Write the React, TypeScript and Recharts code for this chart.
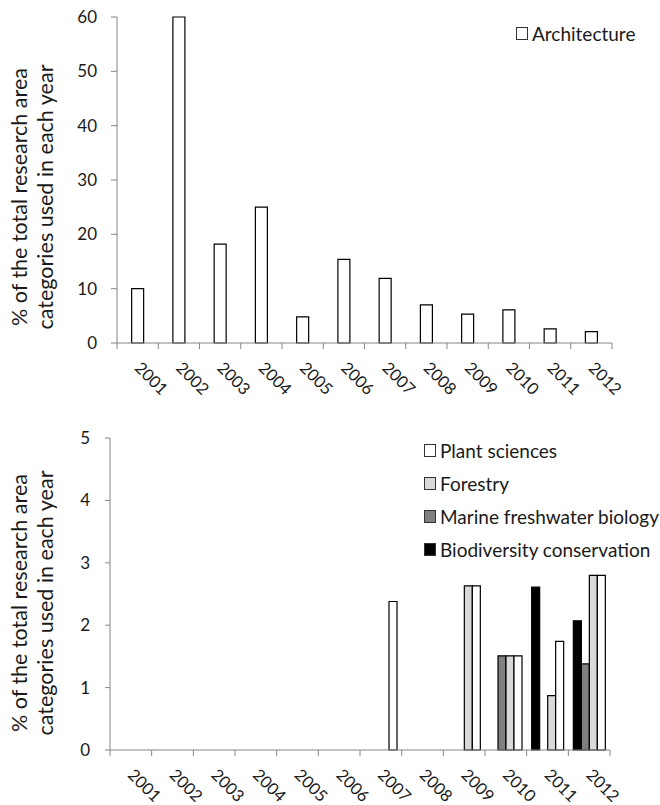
import React from 'react';
import { BarChart, Bar, XAxis, YAxis, Legend } from 'recharts';

const years = ['2001', '2002', '2003', '2004', '2005', '2006', '2007', '2008', '2009', '2010', '2011', '2012'];

// top panel
const architecture = [10, 60, 18.2, 25, 4.8, 15.4, 11.9, 7, 5.3, 6.1, 2.6, 2.1];
const topTicks = [0, 10, 20, 30, 40, 50, 60];

// bottom panel (null = no bar that year)
const biodiversity = [null, null, null, null, null, null, null, null, null, null, 2.61, 2.07];
const marine = [null, null, null, null, null, null, null, null, null, 1.51, null, 1.38];
const forestry = [null, null, null, null, null, null, null, null, 2.63, 1.51, 0.87, 2.8];
const plantSciences = [null, null, null, null, null, null, 2.38, null, 2.63, 1.51, 1.74, 2.8];
const bottomTicks = [0, 1, 2, 3, 4, 5];

const topData = years.map((year, i) => ({ year, architecture: architecture[i] }));
const bottomData = years.map((year, i) => ({
  year,
  biodiversity: biodiversity[i],
  marine: marine[i],
  forestry: forestry[i],
  plantSciences: plantSciences[i],
}));

const FONT = 'Lato, "Open Sans", sans-serif';
const AXIS = '#868686';
const TEXT = '#1a1a1a';

const bottomSeries = [
  { key: 'plantSciences', name: 'Plant sciences', fill: '#ffffff' },
  { key: 'forestry', name: 'Forestry', fill: '#d9d9d9' },
  { key: 'marine', name: 'Marine freshwater biology', fill: '#7f7f7f' },
  { key: 'biodiversity', name: 'Biodiversity conservation', fill: '#000000' },
];

// tick marks sit between categories, labels are slanted under each category
const makeYearTick = (step: number, count: number) => (props: any) => {
  const { x, y, payload, index } = props;
  const half = step / 2;
  return (
    <g>
      <line x1={x - half} x2={x - half} y1={y} y2={y + 6} stroke={AXIS} strokeWidth={1} />
      {index === count - 1 && (
        <line x1={x + half} x2={x + half} y1={y} y2={y + 6} stroke={AXIS} strokeWidth={1} />
      )}
      <text
        transform={`translate(${x - 4},${y + 26}) rotate(45)`}
        textAnchor="start"
        fontSize={16.5}
        fontFamily={FONT}
        fill={TEXT}
      >
        {payload.value}
      </text>
    </g>
  );
};

// zero-size wrapper so the legend does not push the plot area around
const LegendBox = ({ items, gap }: { items: { name: string; fill: string }[]; gap: number }) => (
  <div style={{ position: 'absolute', left: 0, top: 0, fontFamily: FONT, fontSize: 19, color: TEXT }}>
    {items.map((it) => (
      <div key={it.name} style={{ display: 'flex', alignItems: 'center', height: gap, whiteSpace: 'nowrap' }}>
        <span
          style={{
            display: 'inline-block',
            width: 10,
            height: 11,
            background: it.fill,
            border: '1px solid #333',
            marginRight: 4,
          }}
        />
        {it.name}
      </div>
    ))}
  </div>
);

const YTitle = ({ x, y }: { x: number; y: number }) => (
  <g fontFamily={FONT} fontSize={21.5} fill={TEXT}>
    <text transform={`translate(${x},${y}) rotate(-90)`} textAnchor="middle">
      % of the total research area
    </text>
    <text transform={`translate(${x + 26},${y}) rotate(-90)`} textAnchor="middle">
      categories used in each year
    </text>
  </g>
);

export default function App() {
  const topStep = (612 - 117) / years.length;
  const bottomStep = (610 - 110) / years.length;

  return (
    <div style={{ position: 'absolute', left: 0, top: 0, width: 660, height: 805, background: '#fff' }}>
      <div style={{ position: 'absolute', left: 0, top: 0 }}>
        <BarChart width={660} height={410} data={topData} margin={{ top: 17, right: 48, bottom: 0, left: 0 }} barCategoryGap="35.5%">
          <YAxis
            width={117}
            domain={[0, 60]}
            ticks={topTicks}
            tickSize={6}
            tickMargin={14}
            axisLine={{ stroke: AXIS }}
            tickLine={{ stroke: AXIS }}
            tick={{ fontSize: 17, fontFamily: FONT, fill: TEXT }}
          />
          <XAxis
            dataKey="year"
            height={67}
            interval={0}
            tickSize={0}
            tickMargin={0}
            tickLine={false}
            axisLine={{ stroke: AXIS }}
            tick={makeYearTick(topStep, years.length)}
          />
          <Legend
            verticalAlign="top"
            align="right"
            wrapperStyle={{ top: 19, left: 516, width: 0, height: 0, overflow: 'visible' }}
            content={() => <LegendBox items={[{ name: 'Architecture', fill: '#ffffff' }]} gap={28} />}
          />
          <Bar dataKey="architecture" name="Architecture" fill="#ffffff" stroke="#000" strokeWidth={1.2} isAnimationActive={false} />
        </BarChart>
      </div>

      <div style={{ position: 'absolute', left: 0, top: 400 }}>
        <BarChart width={660} height={405} data={bottomData} margin={{ top: 38, right: 50, bottom: 0, left: 0 }} barCategoryGap="12%" barGap={0}>
          <YAxis
            width={110}
            domain={[0, 5]}
            ticks={bottomTicks}
            tickSize={5}
            tickMargin={15}
            axisLine={{ stroke: AXIS }}
            tickLine={{ stroke: AXIS }}
            tick={{ fontSize: 17, fontFamily: FONT, fill: TEXT }}
          />
          <XAxis
            dataKey="year"
            height={55}
            interval={0}
            tickSize={0}
            tickMargin={0}
            tickLine={false}
            axisLine={{ stroke: AXIS }}
            tick={makeYearTick(bottomStep, years.length)}
          />
          <Legend
            verticalAlign="top"
            align="right"
            wrapperStyle={{ top: 33.5, left: 424, width: 0, height: 0, overflow: 'visible' }}
            content={() => <LegendBox items={bottomSeries} gap={33} />}
          />
          {[...bottomSeries].reverse().map((s) => (
            <Bar
              key={s.key}
              dataKey={s.key}
              name={s.name}
              fill={s.fill}
              stroke="#000"
              strokeWidth={1.2}
              isAnimationActive={false}
            />
          ))}
        </BarChart>
      </div>

      <svg width={660} height={805} style={{ position: 'absolute', left: 0, top: 0, pointerEvents: 'none' }}>
        <YTitle x={27} y={197} />
        <YTitle x={27} y={603} />
      </svg>
    </div>
  );
}
